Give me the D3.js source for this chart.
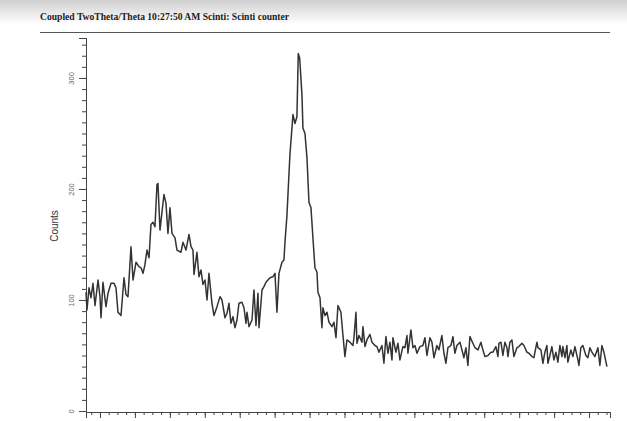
<!DOCTYPE html>
<html>
<head>
<meta charset="utf-8">
<script src="https://cdn.jsdelivr.net/npm/d3@7"></script>
<style>
  body { margin: 0; background: #fff; }
  svg { display: block; }
</style>
</head>
<body>
<div id="chart"></div>
<script>
// 2theta (deg) and counts
let twoTheta = [8.00, 8.14, 8.43, 8.72, 9.00, 9.29, 9.72, 10.00, 10.15, 10.43, 10.86, 11.15, 11.58, 12.01, 12.29, 12.58, 13.01, 13.44, 13.72, 14.01,
  14.44, 14.73, 15.16, 15.58, 15.87, 16.16, 16.44, 16.73, 17.02, 17.30, 17.59, 17.87, 18.16, 18.30, 18.59, 19.16, 19.45, 19.73, 20.02, 20.31,
  20.74, 21.02, 21.59, 21.88, 22.31, 22.74, 23.03, 23.31, 23.46, 23.88, 24.17, 24.46, 24.74, 25.03, 25.32, 25.60, 26.03, 26.32, 26.75, 27.18,
  27.46, 27.89, 28.18, 28.46, 28.75, 29.04, 29.32, 29.61, 29.89, 30.32, 30.61, 30.90, 31.04, 31.33, 31.76, 32.04, 32.33, 32.61, 32.76, 33.19,
  33.47, 33.76, 34.04, 34.33, 34.76, 35.05, 35.33, 35.62, 36.05, 36.33, 36.48, 36.76, 37.19, 37.48, 37.62, 37.91, 38.19, 38.38, 38.58, 38.91,
  39.05, 39.34, 39.63, 39.91, 40.20, 40.48, 40.77, 41.06, 41.20, 41.49, 41.77, 41.91, 42.20, 42.49, 42.77, 43.20, 43.49, 43.78, 44.06, 44.49,
  44.78, 45.06, 45.35, 45.78, 46.21, 46.35, 46.64, 46.78, 47.07, 47.50, 47.64, 47.93, 48.21, 48.64, 48.93, 49.36, 49.64, 49.93, 50.36, 50.64,
  50.93, 51.22, 51.50, 51.79, 51.93, 52.36, 52.65, 52.93, 53.36, 53.65, 53.94, 54.08, 54.51, 54.79, 55.08, 55.37, 55.80, 56.22, 56.51, 56.80,
  57.23, 57.51, 57.80, 58.23, 58.51, 58.94, 59.23, 59.52, 59.80, 60.23, 60.52, 60.80, 61.09, 61.52, 61.81, 62.09, 62.38, 62.66, 62.95, 63.38,
  63.67, 64.10, 64.52, 64.81, 65.10, 65.53, 65.96, 66.24, 66.67, 66.96, 67.10, 67.39, 67.67, 67.96, 68.25, 68.39, 68.67, 68.96, 69.25, 69.68,
  69.96, 70.39, 70.68, 71.11, 71.39, 71.82, 72.11, 72.54, 72.68, 73.11, 73.40, 73.68, 73.97, 74.11, 74.40, 74.68, 74.97, 75.26, 75.54, 75.83,
  76.12, 76.26, 76.55, 76.83, 76.97, 77.40, 77.69, 77.98, 78.41, 78.55, 78.83, 79.12, 79.55, 79.84, 80.12, 80.41, 80.84, 81.27, 81.55, 81.84,
  82.13, 82.56];

let counts = [107, 91, 111, 102, 115, 95, 118, 103, 84, 116, 94, 106, 115, 115, 111, 89, 86, 120, 105, 103,
  148, 118, 134, 130, 129, 124, 132, 145, 138, 168, 170, 166, 204, 205, 163, 195, 187, 160, 183, 160,
  156, 145, 143, 152, 145, 159, 148, 145, 123, 143, 121, 127, 114, 118, 100, 124, 97, 86, 94, 103,
  100, 84, 88, 97, 79, 85, 75, 82, 97, 98, 93, 79, 89, 76, 82, 109, 77, 106, 75, 109,
  112, 116, 118, 120, 121, 124, 89, 124, 134, 136, 152, 176, 231, 255, 267, 259, 265, 322, 318, 285,
  255, 250, 228, 188, 183, 156, 129, 125, 107, 102, 75, 93, 86, 89, 80, 76, 80, 66, 95, 89,
  68, 49, 64, 62, 59, 66, 89, 61, 68, 62, 76, 58, 64, 69, 62, 59, 58, 53, 59, 43,
  67, 52, 62, 46, 66, 53, 61, 46, 58, 57, 68, 52, 73, 57, 59, 52, 58, 59, 66, 50,
  66, 62, 48, 59, 55, 68, 52, 43, 57, 59, 67, 52, 59, 62, 55, 48, 57, 41, 67, 61,
  57, 55, 62, 55, 49, 50, 53, 53, 58, 49, 61, 62, 50, 62, 57, 49, 62, 64, 49, 57,
  58, 61, 59, 53, 52, 49, 48, 62, 57, 55, 43, 53, 59, 43, 50, 58, 46, 53, 44, 59,
  49, 58, 48, 59, 44, 55, 49, 58, 46, 41, 57, 59, 50, 48, 57, 53, 49, 57, 41, 59,
  53, 40];

let yMajorTicks = [0, 100, 200, 300];
let xMajorTicks = [10, 15, 20, 25, 30, 35, 40, 45, 50, 55, 60, 65, 70, 75, 80];

let title = "Coupled TwoTheta/Theta 10:27:50 AM Scinti: Scinti counter";

let width = 627, height = 421;
let margin = {top: 38, right: 17, bottom: 9, left: 86};

let svg = d3.select('#chart')
    .append('svg')
    .attr('width', width)
    .attr('height', height);

// grey header band
let grad = svg.append('defs').append('linearGradient')
    .attr('id', 'hdr')
    .attr('x1', 0).attr('y1', 0).attr('x2', 0).attr('y2', 1);
grad.append('stop').attr('offset', '0%').attr('stop-color', '#cfcfcf');
grad.append('stop').attr('offset', '100%').attr('stop-color', '#ffffff');

svg.append('rect')
    .attr('x', 0).attr('y', 0)
    .attr('width', width).attr('height', 24)
    .attr('fill', 'url(#hdr)');

svg.append('text')
    .attr('x', 40)
    .attr('y', 20)
    .attr('font-family', 'Liberation Serif, Times New Roman, serif')
    .attr('font-weight', 'bold')
    .attr('font-size', 9.6)
    .attr('fill', '#222')
    .text(title);

svg.append('line')
    .attr('x1', 40).attr('x2', 610)
    .attr('y1', 32.5).attr('y2', 32.5)
    .attr('stroke', '#555')
    .attr('stroke-width', 1.2);

let xScale = d3.scaleLinear()
    .domain([8, 83])
    .range([margin.left, width - margin.right]);

let yScale = d3.scaleLinear()
    .domain([0, 336])
    .range([height - 10, margin.top]);

// y axis: minor then major ticks
let yMinor = d3.axisLeft(yScale)
    .tickValues(d3.range(0, 336, 10))
    .tickSize(4)
    .tickFormat('');

svg.append('g')
    .attr('transform', 'translate(' + margin.left + ',0)')
    .call(yMinor);

let yMajor = d3.axisLeft(yScale)
    .tickValues(yMajorTicks)
    .tickSize(7)
    .tickFormat(d3.format('d'));

let yg = svg.append('g')
    .attr('transform', 'translate(' + margin.left + ',0)')
    .call(yMajor);

yg.selectAll('text')
    .attr('transform', 'translate(-14,0) rotate(-90)')
    .attr('x', 0)
    .attr('y', 0)
    .attr('dy', '0.32em')
    .attr('text-anchor', 'middle')
    .attr('font-family', 'Liberation Sans, Arial, sans-serif')
    .attr('font-size', 7.5)
    .attr('fill', '#666');

// x axis (labels fall below the visible area in the reference)
let xBase = height - 9;

let xMinor = d3.axisBottom(xScale)
    .tickValues(d3.range(8.75, 83, 1.25))
    .tickSize(3)
    .tickFormat('');

svg.append('g')
    .attr('transform', 'translate(0,' + xBase + ')')
    .call(xMinor);

let xMajor = d3.axisBottom(xScale)
    .tickValues(xMajorTicks)
    .tickSize(6)
    .tickFormat('');

svg.append('g')
    .attr('transform', 'translate(0,' + xBase + ')')
    .call(xMajor);

svg.selectAll('.domain, .tick line')
    .attr('stroke', '#444')
    .attr('stroke-width', 1);

svg.append('text')
    .attr('transform', 'translate(58,' + 226 + ') rotate(-90)')
    .attr('text-anchor', 'middle')
    .attr('font-family', 'Liberation Sans, Arial, sans-serif')
    .attr('font-size', 10)
    .attr('fill', '#333')
    .text('Counts');

let points = twoTheta.map(function (t, i) { return [t, counts[i]]; });

let line = d3.line()
    .x(function (d) { return xScale(d[0]); })
    .y(function (d) { return yScale(d[1]); });

svg.append('path')
    .datum(points)
    .attr('d', line)
    .attr('fill', 'none')
    .attr('stroke', '#333')
    .attr('stroke-width', 1.5)
    .attr('stroke-linejoin', 'round');
</script>
</body>
</html>
